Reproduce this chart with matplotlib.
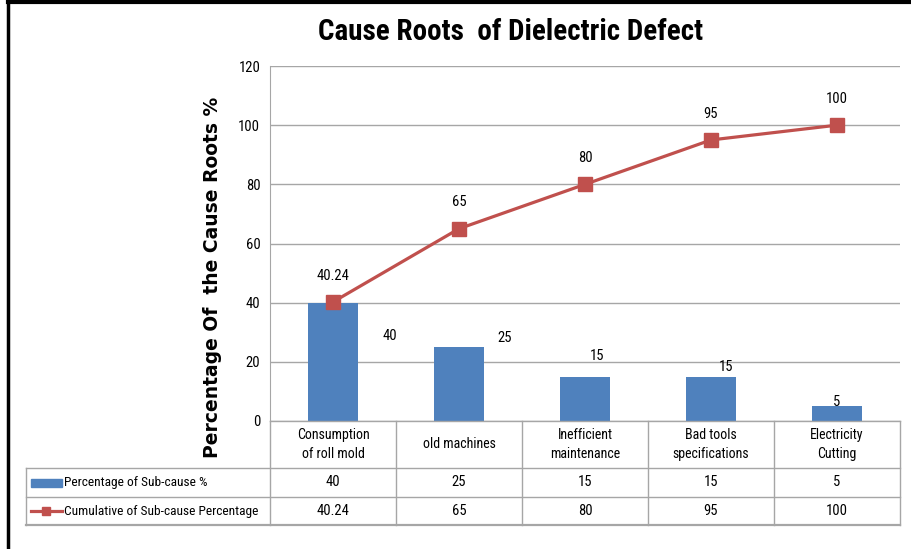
import matplotlib.pyplot as plt
import matplotlib.transforms as mtransforms
from matplotlib.lines import Line2D
from matplotlib.patches import Rectangle
import numpy as np

categories = ["Consumption\nof roll mold", "old machines", "Inefficient\nmaintenance",
              "Bad tools\nspecifications", "Electricity\nCutting"]
sub_cause = [40, 25, 15, 15, 5]
cumulative = [40.24, 65, 80, 95, 100]
cumulative_labels = ["40.24", "65", "80", "95", "100"]
yticks = [0, 20, 40, 60, 80, 100, 120]

series_names = ["Percentage of Sub-cause %", "Cumulative of Sub-cause Percentage"]

bar_color = "#4F81BD"
line_color = "#C0504D"
grid_color = "#A6A6A6"

plt.rcParams['font.family'] = ['Liberation Sans Narrow', 'Roboto Condensed', 'Open Sans Condensed',
	'Lato', 'DejaVu Sans']

W, H = 911, 549
fig = plt.figure(figsize=(W / 100, H / 100), dpi=100)

def fx(px):
	return px / W

def fy(py):
	return 1 - py / H

# plot area in pixels
left, right, top, bottom = 270, 900, 66, 421
ax = fig.add_axes([fx(left), fy(bottom), fx(right - left), (bottom - top) / H])

x = np.arange(len(categories))
ax.bar(x, sub_cause, width=0.4, color=bar_color, zorder=2)
ax.plot(x, cumulative, color=line_color, linewidth=2.3, marker="s", markersize=9.5, zorder=3)

ax.set_xlim(-0.5, len(categories) - 0.5)
ax.set_ylim(0, 120)
ax.set_yticks(yticks)
ax.set_yticklabels([str(t) for t in yticks], fontsize=10.5)
ax.tick_params(axis="y", length=0, pad=7)
ax.set_xticks([])
ax.yaxis.grid(True, color=grid_color, linewidth=1.0, zorder=0)
ax.set_axisbelow(True)
for s in ["top", "right", "bottom"]:
	ax.spines[s].set_visible(False)
ax.spines["left"].set_color(grid_color)

# data labels (odd Excel placement, offsets in points)
bar_label_offsets = [(41, -24), (33, 6.5), (8.6, 15), (11, 7), (0, 3)]
for xi, v, (dx, dy) in zip(x, sub_cause, bar_label_offsets):
	ax.annotate(str(v), (xi, v), xytext=(dx, dy), textcoords="offset points",
		ha="center", va="center", fontsize=10.5)
for xi, v, lab in zip(x, cumulative, cumulative_labels):
	ax.annotate(lab, (xi, v), xytext=(0, 19), textcoords="offset points",
		ha="center", va="center", fontsize=10.5)

# title and y label
fig.text(fx(511), fy(32), "Cause Roots  of Dielectric Defect", ha="center", va="center",
	fontsize=21, fontweight="bold")
fig.text(fx(213), fy(277), "Percentage Of  the Cause Roots %", ha="center", va="center",
	rotation=90, fontsize=13.5, fontweight="bold", family="DejaVu Sans")

# data table below the axes
trans = mtransforms.blended_transform_factory(ax.transData, fig.transFigure)
row_cat, row1, row2, row_end = 421, 468, 497, 525
tbl_left = 26

def hline(py, x0, x1, lw=1.0):
	fig.add_artist(Line2D([fx(x0), fx(x1)], [fy(py), fy(py)], color=grid_color, linewidth=lw))

def vline(px, y0, y1):
	fig.add_artist(Line2D([fx(px), fx(px)], [fy(y0), fy(y1)], color=grid_color, linewidth=1.0))

hline(row_cat, left, right)
hline(row1, tbl_left, right)
hline(row2, tbl_left, right)
hline(row_end, tbl_left, right, lw=1.6)
vline(tbl_left, row1, row_end)
for b in np.arange(len(categories) + 1) - 0.5:
	px = left + (b + 0.5) * (right - left) / len(categories)
	vline(px, row_cat, row_end)

for xi, c in enumerate(categories):
	fig.text(xi, fy((row_cat + row1) / 2), c, transform=trans, ha="center", va="center",
		fontsize=10, linespacing=1.5)
	fig.text(xi, fy((row1 + row2) / 2), str(sub_cause[xi]), transform=trans, ha="center",
		va="center", fontsize=10.5)
	fig.text(xi, fy((row2 + row_end) / 2), cumulative_labels[xi], transform=trans, ha="center",
		va="center", fontsize=10.5)

# legend keys in the table
fig.add_artist(Rectangle((fx(31), fy(487)), fx(31), 8 / H, color=bar_color))
fig.add_artist(Line2D([fx(31), fx(62)], [fy(511), fy(511)], color=line_color, linewidth=2.3))
fig.add_artist(Line2D([fx(46)], [fy(511)], color=line_color, marker="s", markersize=5.5))
fig.text(fx(64), fy((row1 + row2) / 2), series_names[0], ha="left", va="center", fontsize=9.6)
fig.text(fx(64), fy((row2 + row_end) / 2), series_names[1], ha="left", va="center", fontsize=9.6)

# outer frame (left and top)
fig.add_artist(Line2D([fx(8), fx(8)], [0, fy(0)], color="black", linewidth=2.5))
fig.add_artist(Line2D([fx(8), 1], [fy(1.5), fy(1.5)], color="black", linewidth=3))

fig.savefig("out.png", dpi=100)
